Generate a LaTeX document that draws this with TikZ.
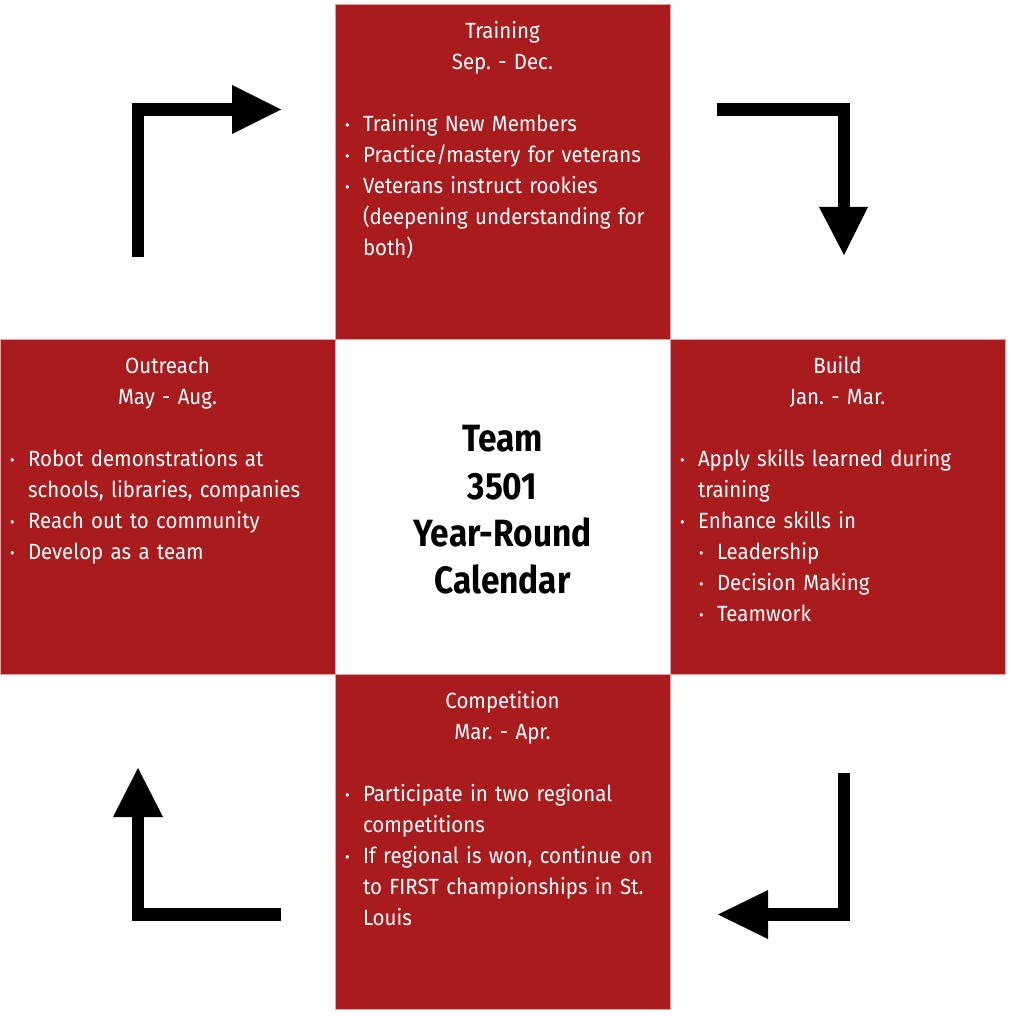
\documentclass[tikz,border=0pt]{standalone}
\usepackage{fontspec}
\setmainfont{Fira Sans}[FakeStretch=0.93, WordSpace=0.7]
\newfontfamily\titlefont{Fira Sans}[FakeStretch=0.88]
\definecolor{boxred}{RGB}{170,27,30}
\definecolor{edgepink}{RGB}{226,160,160}
\frenchspacing
\tikzset{
  cell/.style={fill=boxred, draw=edgepink, line width=0.8pt, minimum width=335pt,
    minimum height=335pt, inner sep=0pt, outer sep=0pt, anchor=north west},
  celltext/.style={text=white, text width=315pt, inner sep=0pt, anchor=north,
    font=\fontsize{22}{31}\selectfont\frenchspacing},
  shaft/.style={line width=12.5pt, line join=miter, line cap=butt},
  head/.style={fill=black},
}
\newcommand\bul{\makebox[18pt][l]{\fontsize{15}{15}\selectfont\raisebox{1pt}{•}}}
\newcommand\itemA[1]{\par\hangindent=18pt\hangafter=1\noindent\bul#1}
\newcommand\itemB[1]{\par\hangindent=37pt\hangafter=1\noindent\hspace*{19pt}\bul#1}
\newcommand\hdr[2]{{\centering\noindent\rule{0pt}{24pt}#1\par\noindent#2\par}\vspace{31pt}\raggedright}
\begin{document}
\begin{tikzpicture}[x=1pt,y=-1pt]
\useasboundingbox (0,0) rectangle (1010,1016);
\fill[white] (0,0) rectangle (1010,1016);
% cells
\node[cell] (train) at (335,4) {};
\node[cell] (build) at (670,339) {};
\node[cell] (outr) at (0,339) {};
\node[cell] (comp) at (335,674) {};
% texts
\node[celltext] (traintxt) at ([yshift=-10pt]train.north) {%
  \hdr{Training}{Sep. - Dec.}%
  \itemA{Training New Members}%
  \itemA{Practice/mastery for veterans}%
  \itemA{Veterans instruct rookies\newline(deepening understanding for\newline both)}\par};
\node[celltext] (buildtxt) at ([yshift=-10pt]build.north) {%
  \hdr{Build}{Jan. - Mar.}%
  \itemA{Apply skills learned during\newline training}%
  \itemA{Enhance skills in}%
  \itemB{Leadership}%
  \itemB{Decision Making}%
  \itemB{Teamwork}\par};
\node[celltext] (outrtxt) at ([yshift=-10pt]outr.north) {%
  \hdr{Outreach}{May - Aug.}%
  \itemA{Robot demonstrations at\newline schools, libraries, companies}%
  \itemA{Reach out to community}%
  \itemA{Develop as a team}\par};
\node[celltext] (comptxt) at ([yshift=-10pt]comp.north) {%
  \hdr{Competition}{Mar. - Apr.}%
  \itemA{Participate in two regional\newline competitions}%
  \itemA{If regional is won, continue on\newline to FIRST championships in St.\newline Louis}\par};
\node[align=center, inner sep=0pt, font=\titlefont\bfseries\fontsize{38}{47.3}\selectfont]
  (title) at (502.5,510) {Team\\3501\\Year-Round\\Calendar};
% arrows
\coordinate (a1s) at (138,257); \coordinate (a1c) at (138,109.5); \coordinate (a1e) at (232,109.5);
\draw[shaft] (a1s) -- (a1c) -- (a1e);
\fill[head] (232,85) -- (281,109.5) -- (232,134) -- cycle;
\coordinate (a2s) at (717,109.5); \coordinate (a2c) at (844,109.5); \coordinate (a2e) at (844,207);
\draw[shaft] (a2s) -- (a2c) -- (a2e);
\fill[head] (819,207) -- (844,255) -- (868,207) -- cycle;
\coordinate (a3s) at (281,914.5); \coordinate (a3c) at (138,914.5); \coordinate (a3e) at (138,817);
\draw[shaft] (a3s) -- (a3c) -- (a3e);
\fill[head] (113,817) -- (138,768) -- (163,817) -- cycle;
\coordinate (a4s) at (844,773); \coordinate (a4c) at (844,914.5); \coordinate (a4e) at (768,914.5);
\draw[shaft] (a4s) -- (a4c) -- (a4e);
\fill[head] (768,890) -- (718,914.5) -- (768,939) -- cycle;
\end{tikzpicture}
\end{document}
